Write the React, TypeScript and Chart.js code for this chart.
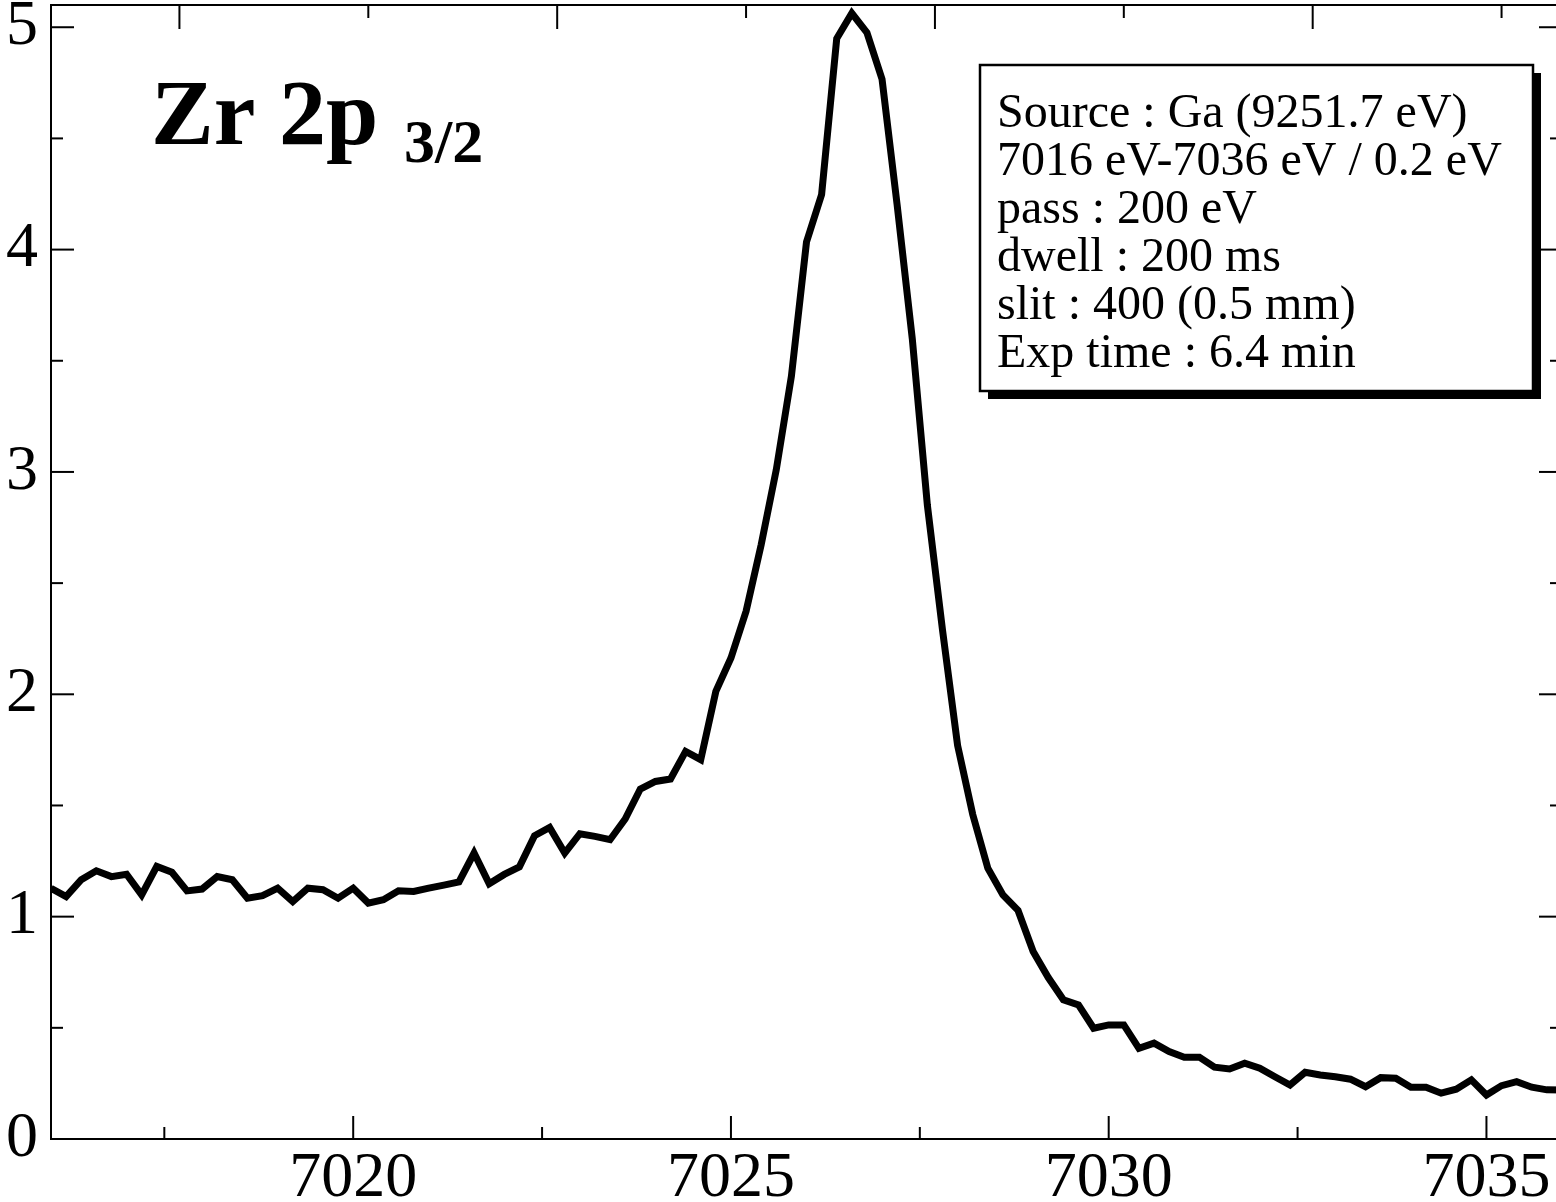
import React, { useEffect, useRef } from 'react';
import { Chart, registerables } from 'chart.js';

Chart.register(...registerables);

const SERIF = '"Liberation Serif", "Times New Roman", serif';

// Binding energy (eV), scan 7016-7036 eV / 0.2 eV
const energy = [
  7016, 7016.2, 7016.4, 7016.6, 7016.8, 7017, 7017.2, 7017.4, 7017.6, 7017.8,
  7018, 7018.2, 7018.4, 7018.6, 7018.8, 7019, 7019.2, 7019.4, 7019.6, 7019.8,
  7020, 7020.2, 7020.4, 7020.6, 7020.8, 7021, 7021.2, 7021.4, 7021.6, 7021.8,
  7022, 7022.2, 7022.4, 7022.6, 7022.8, 7023, 7023.2, 7023.4, 7023.6, 7023.8,
  7024, 7024.2, 7024.4, 7024.6, 7024.8, 7025, 7025.2, 7025.4, 7025.6, 7025.8,
  7026, 7026.2, 7026.4, 7026.6, 7026.8, 7027, 7027.2, 7027.4, 7027.6, 7027.8,
  7028, 7028.2, 7028.4, 7028.6, 7028.8, 7029, 7029.2, 7029.4, 7029.6, 7029.8,
  7030, 7030.2, 7030.4, 7030.6, 7030.8, 7031, 7031.2, 7031.4, 7031.6, 7031.8,
  7032, 7032.2, 7032.4, 7032.6, 7032.8, 7033, 7033.2, 7033.4, 7033.6, 7033.8,
  7034, 7034.2, 7034.4, 7034.6, 7034.8, 7035, 7035.2, 7035.4, 7035.6, 7035.8,
  7036,
];

const intensity = [
  1.128, 1.09, 1.166, 1.206, 1.18, 1.191, 1.098, 1.226, 1.2, 1.116,
  1.124, 1.18, 1.166, 1.083, 1.094, 1.128, 1.068, 1.128, 1.121, 1.083,
  1.128, 1.061, 1.076, 1.116, 1.113, 1.128, 1.142, 1.156, 1.286, 1.148,
  1.19, 1.224, 1.364, 1.401, 1.286, 1.373, 1.361, 1.346, 1.439, 1.574,
  1.608, 1.619, 1.743, 1.706, 2.013, 2.163, 2.373, 2.673, 3.01, 3.43,
  4.034, 4.248, 4.949, 5.063, 4.976, 4.766, 4.2, 3.6, 2.85, 2.29,
  1.77, 1.46, 1.218, 1.098, 1.028, 0.843, 0.726, 0.626, 0.603, 0.498,
  0.513, 0.513, 0.408, 0.431, 0.393, 0.368, 0.368, 0.323, 0.315, 0.341,
  0.318, 0.28, 0.243, 0.3, 0.288, 0.28, 0.269, 0.235, 0.276, 0.273,
  0.233, 0.233, 0.206, 0.224, 0.266, 0.198, 0.24, 0.258, 0.233, 0.221,
  0.22,
];

const xMajorTicks = [7020, 7025, 7030, 7035];
const xMinorTicks = [7017.5, 7022.5, 7027.5, 7032.5];
const topMajorTicks = [7017.7, 7022.7, 7027.7, 7032.7];
const topMinorTicks = [7020.2, 7025.2, 7030.2, 7035.2];
const yMajorTicks = [0, 1, 2, 3, 4, 5];
const yMinorTicks = [0.5, 1.5, 2.5, 3.5, 4.5];

const titleMain = 'Zr 2p';
const titleSub = '3/2';
const infoLines = [
  'Source : Ga (9251.7 eV)',
  '7016 eV-7036 eV / 0.2 eV',
  'pass : 200 eV',
  'dwell : 200 ms',
  'slit : 400 (0.5 mm)',
  'Exp time : 6.4 min',
];

const CANVAS_W = 1570;
const CANVAS_H = 1202;

export default function App() {
  const ref = useRef<HTMLCanvasElement | null>(null);

  useEffect(() => {
    document.body.style.margin = '0';
    const canvas = ref.current;
    if (!canvas) return;

    const decoPlugin = {
      id: 'deco',
      afterDraw(chart: any) {
        const ctx = chart.ctx as CanvasRenderingContext2D;
        const { left, right, top, bottom } = chart.chartArea;
        const xs = chart.scales.x;
        const ys = chart.scales.y;
        ctx.save();
        ctx.strokeStyle = '#000';
        ctx.lineWidth = 2;
        const seg = (x1: number, y1: number, x2: number, y2: number) => {
          ctx.beginPath();
          ctx.moveTo(x1, y1);
          ctx.lineTo(x2, y2);
          ctx.stroke();
        };
        const yTicks = (vals: number[], len: number) =>
          vals.forEach((v) => {
            const p = ys.getPixelForValue(v);
            seg(left, p, left + len, p);
            seg(right, p, right - len, p);
          });
        const bTicks = (vals: number[], len: number) =>
          vals.forEach((v) => {
            const p = xs.getPixelForValue(v);
            seg(p, bottom, p, bottom - len);
          });
        const tTicks = (vals: number[], len: number) =>
          vals.forEach((v) => {
            const p = xs.getPixelForValue(v);
            seg(p, top, p, top + len);
          });
        yTicks(yMajorTicks, 23);
        yTicks(yMinorTicks, 12);
        bTicks(xMajorTicks, 23);
        bTicks(xMinorTicks, 12);
        tTicks(topMajorTicks, 24);
        tTicks(topMinorTicks, 13);

        // Title
        ctx.fillStyle = '#000';
        ctx.textBaseline = 'alphabetic';
        ctx.textAlign = 'left';
        ctx.font = `bold 94px ${SERIF}`;
        ctx.fillText(titleMain, 151, 144);
        ctx.font = `bold 62px ${SERIF}`;
        ctx.fillText(titleSub, 404, 162);

        // Info box with drop shadow
        const bx = 980, by = 65, bw = 553, bh = 326;
        ctx.fillStyle = '#000';
        ctx.fillRect(bx + 8, by + 8, bw, bh);
        ctx.fillStyle = '#fff';
        ctx.fillRect(bx, by, bw, bh);
        ctx.lineWidth = 2.5;
        ctx.strokeRect(bx, by, bw, bh);
        ctx.fillStyle = '#000';
        ctx.font = `48px ${SERIF}`;
        infoLines.forEach((t, i) => {
          ctx.fillText(t, 997, 127 + i * 47.9);
        });
        ctx.restore();
      },
    };

    const chart = new Chart(canvas, {
      type: 'line',
      data: {
        datasets: [
          {
            data: energy.map((e, i) => ({ x: e, y: intensity[i] })),
            borderColor: '#000',
            borderWidth: 7,
            pointRadius: 0,
            fill: false,
            tension: 0,
            xAxisID: 'x',
            yAxisID: 'y',
          },
        ],
      },
      options: {
        responsive: false,
        animation: false,
        devicePixelRatio: 1,
        layout: { padding: 0 },
        plugins: {
          legend: { display: false },
          tooltip: { enabled: false },
          title: { display: false },
        },
        scales: {
          x: {
            type: 'linear',
            position: 'bottom',
            min: 7016,
            max: 7036,
            grid: { display: false, drawTicks: false },
            border: { display: true, color: '#000', width: 2 },
            ticks: {
              color: '#000',
              font: { family: SERIF, size: 64 },
              padding: 2,
              maxRotation: 0,
              autoSkip: false,
              callback: (v: any) => String(v),
            },
            afterBuildTicks: (s: any) => {
              s.ticks = xMajorTicks.map((v) => ({ value: v }));
            },
            afterFit: (s: any) => {
              s.height = 63;
              s.paddingLeft = 0;
              s.paddingRight = 0;
              s.paddingTop = 0;
              s.paddingBottom = 0;
            },
          },
          x2: {
            type: 'linear',
            position: 'top',
            min: 7016,
            max: 7036,
            grid: { display: false, drawTicks: false },
            border: { display: true, color: '#000', width: 2 },
            ticks: { display: false },
            afterFit: (s: any) => {
              s.height = 5;
              s.paddingLeft = 0;
              s.paddingRight = 0;
              s.paddingTop = 0;
              s.paddingBottom = 0;
            },
          },
          y: {
            type: 'linear',
            position: 'left',
            min: 0,
            max: 5.1,
            grid: { display: false, drawTicks: false },
            border: { display: true, color: '#000', width: 2 },
            ticks: {
              color: '#000',
              font: { family: SERIF, size: 64 },
              padding: 13,
              autoSkip: false,
              callback: (v: any) => String(v),
            },
            afterBuildTicks: (s: any) => {
              s.ticks = yMajorTicks.map((v) => ({ value: v }));
            },
            afterFit: (s: any) => {
              s.width = 51;
              s.paddingLeft = 0;
              s.paddingRight = 0;
              s.paddingTop = 0;
              s.paddingBottom = 0;
            },
          },
          y2: {
            type: 'linear',
            position: 'right',
            min: 0,
            max: 5.1,
            grid: { display: false, drawTicks: false },
            border: { display: true, color: '#000', width: 2 },
            ticks: { display: false },
            afterFit: (s: any) => {
              s.width = CANVAS_W - 1562;
              s.paddingLeft = 0;
              s.paddingRight = 0;
              s.paddingTop = 0;
              s.paddingBottom = 0;
            },
          },
        },
      },
      plugins: [decoPlugin],
    } as any);

    return () => {
      chart.destroy();
    };
  }, []);

  return (
    <div
      style={{
        position: 'fixed',
        left: 0,
        top: 0,
        width: 1556,
        height: 1202,
        overflow: 'hidden',
        background: '#fff',
      }}
    >
      <canvas
        ref={ref}
        width={CANVAS_W}
        height={CANVAS_H}
        style={{ display: 'block', width: CANVAS_W, height: CANVAS_H }}
      />
    </div>
  );
}
